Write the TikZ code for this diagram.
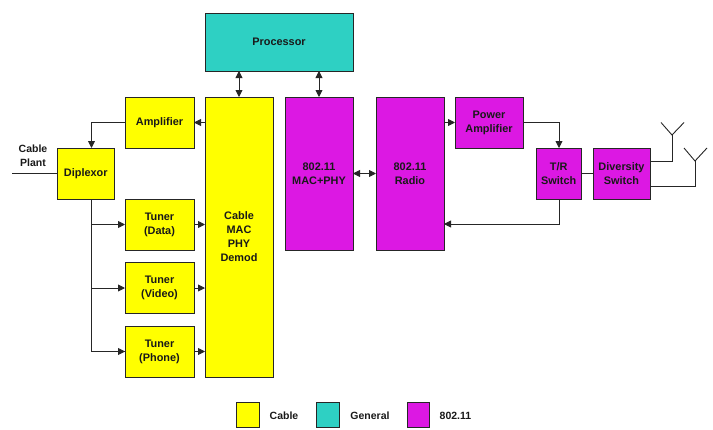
\documentclass[tikz,border=0pt]{standalone}
\usepackage{fontspec}
\setmainfont{Liberation Sans}
\usetikzlibrary{arrows.meta,calc}
\definecolor{cableY}{HTML}{FFFF00}
\definecolor{generalT}{HTML}{2ED0C3}
\definecolor{wifiM}{HTML}{DC18E3}
\tikzset{
  x=1pt,y=-1pt,
  lbl/.style={font=\fontsize{10.5}{13.8}\selectfont\bfseries,align=center,text=black!90,inner sep=0pt},
  blk/.style={lbl,font=\fontsize{10.9}{14}\selectfont\bfseries,draw=black!85,line width=0.9pt,outer sep=0pt},
  cablebox/.style={blk,fill=cableY},
  generalbox/.style={blk,fill=generalT},
  wifibox/.style={blk,fill=wifiM},
  sz/.style 2 args={minimum width=#1pt,minimum height=#2pt},
  wire/.style={draw=black!85,line width=0.9pt},
  conn/.style={wire,-{Triangle[length=7pt,width=7pt]}},
  biconn/.style={wire,{Triangle[length=7pt,width=7pt]}-{Triangle[length=7pt,width=7pt]}},
}
\begin{document}
\begin{tikzpicture}
\useasboundingbox (0,0) rectangle (713,429);
% blocks
\node[generalbox,sz={148}{58}] (proc) at (279,42) {Processor};
\node[cablebox,sz={68}{280}] (cable) at (239,237) {Cable\\MAC\\PHY\\Demod};
\node[wifibox,sz={68}{153}] (mac) at (319,173.5) {802.11\\MAC+PHY};
\node[wifibox,sz={68}{153}] (radio) at (410,173.5) {802.11\\Radio};
\node[wifibox,sz={68}{51}] (pa) at (489,122.5) {Power\\Amplifier};
\node[wifibox,sz={45.5}{51}] (tr) at (558.75,173.5) {T/R\\Switch};
\node[wifibox,sz={57}{51}] (div) at (621.5,173.5) {Diversity\\Switch};
\node[cablebox,sz={69}{51}] (amp) at (159.5,122.5) {Amplifier};
\node[cablebox,sz={56.5}{51}] (dip) at (85.75,173.5) {Diplexor};
\node[cablebox,sz={69}{51}] (t1) at (159.5,224.5) {Tuner\\(Data)};
\node[cablebox,sz={69}{51}] (t2) at (159.5,288) {Tuner\\(Video)};
\node[cablebox,sz={69}{51}] (t3) at (159.5,351.5) {Tuner\\(Phone)};
\node[lbl] (plant) at (33,156) {Cable\\Plant};
% legend
\node[cablebox,sz={22.5}{25}] (lc) at (248,415) {};
\node[generalbox,sz={22.5}{25}] (lg) at (328,415) {};
\node[wifibox,sz={22.5}{25}] (lw) at (418.5,415) {};
\node[lbl] (lct) at (284,416) {Cable};
\node[lbl] (lgt) at (370,416) {General};
\node[lbl] (lwt) at (455.5,416) {802.11};
% helper coordinates
\coordinate (plantend) at (12,173.5);
\coordinate (dipN) at (91.5,148);
\coordinate (dipS) at (91.5,199);
\coordinate (procA) at (239,71);
\coordinate (procB) at (319,71);
\coordinate (prIn) at (559,148);
\coordinate (trS) at (559,199);
\coordinate (ant1) at (672,135);
\coordinate (ant1a) at (661,122.5);
\coordinate (ant1b) at (684,122.5);
\coordinate (ant2) at (695,161);
\coordinate (ant2a) at (684,148);
\coordinate (ant2b) at (707,148);
\coordinate (div1) at (650,161);
\coordinate (div2) at (650,186);
% connectors
\draw[biconn] (procA) -- (cable.north);
\draw[biconn] (procB) -- (mac.north);
\draw[biconn] (mac.east) -- (radio.west);
\draw[conn] (cable.west |- amp.east) -- (amp.east);
\draw[conn] (amp.west) -| (dipN);
\draw[wire] (plantend) -- (dip.west);
\draw[wire] (dipS) |- (t3.west);
\draw[conn] (dipS |- t1.west) -- (t1.west);
\draw[conn] (dipS |- t2.west) -- (t2.west);
\draw[conn] (dipS |- t3.west) -- (t3.west);
\draw[conn] (t1.east) -- (t1.east -| cable.west);
\draw[conn] (t2.east) -- (t2.east -| cable.west);
\draw[conn] (t3.east) -- (t3.east -| cable.west);
\draw[conn] (radio.east |- pa.west) -- (pa.west);
\draw[conn] (pa.east) -| (prIn);
\draw[wire] (tr.east) -- (div.west);
\draw[conn] (trS) |- (radio.east |- 0,224);
\draw[wire] (div1) -| (ant1);
\draw[wire] (div2) -| (ant2);
\draw[wire] (ant1a) -- (ant1) -- (ant1b);
\draw[wire] (ant2a) -- (ant2) -- (ant2b);
\end{tikzpicture}
\end{document}
